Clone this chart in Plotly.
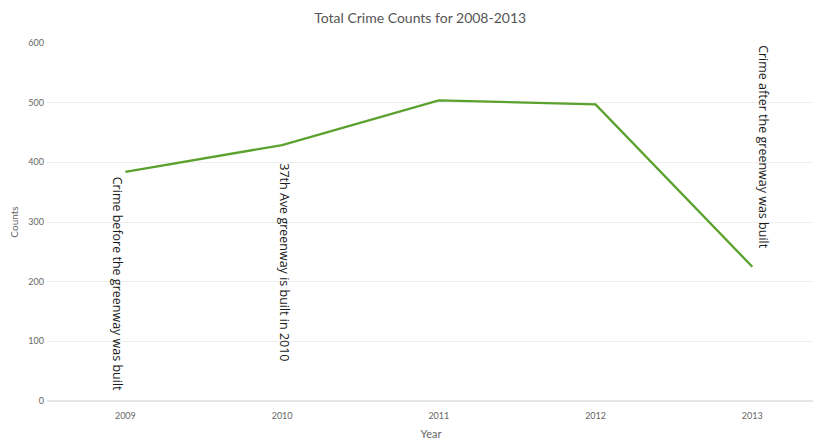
import plotly.graph_objects as go

years = [2009, 2010, 2011, 2012, 2013]
counts = [384, 429, 504, 497, 225]
y_ticks = [0, 100, 200, 300, 400, 500, 600]

notes_text = [
    "Crime before the greenway was built",
    "37th Ave greenway is built in 2010",
    "Crime after the greenway was built",
]
notes_x = [2008.955, 2010.01, 2013.07]
notes_y = [196, 233, 425]

fig = go.Figure()
fig.add_trace(go.Scatter(
    x=years, y=counts, mode="lines",
    line=dict(color="#5ba12d", width=2.3),
    showlegend=False,
))

for t, x, y in zip(notes_text, notes_x, notes_y):
    fig.add_annotation(
        x=x, y=y, text=t, showarrow=False, textangle=90,
        xanchor="center", yanchor="middle",
        font=dict(family="Open Sans", size=12.5, color="#1a1a1a"),
    )

fig.update_layout(
    width=813, height=432,
    margin=dict(l=39, r=6, t=35, b=39),
    paper_bgcolor="white", plot_bgcolor="white",
    title=dict(text="Total Crime Counts for 2008-2013", x=0.507, y=0.977,
               xanchor="center", yanchor="middle",
               font=dict(family="Lato", size=14, color="#555555")),
    font=dict(family="Lato", color="#666666"),
)
fig.update_xaxes(
    range=[2008.5, 2013.4], tickvals=years, ticktext=[str(y) for y in years],
    showgrid=False, zeroline=False, showline=False, automargin=False,
    tickfont=dict(size=9, color="#666666"), ticks="", ticklen=0,
    ticklabelstandoff=8,
    title=dict(text="Year", font=dict(size=11, color="#666666"), standoff=14),
)
fig.update_yaxes(
    range=[0, 600], tickvals=y_ticks, automargin=False,
    showgrid=True, gridcolor="#eeeeee", gridwidth=1,
    zeroline=True, zerolinecolor="#e6e6e6",
    tickfont=dict(size=9, color="#666666"), ticks="", ticklabelstandoff=2,
    title=dict(text="Counts", font=dict(size=10, color="#666666"), standoff=14),
)

fig.write_html("out.html")
